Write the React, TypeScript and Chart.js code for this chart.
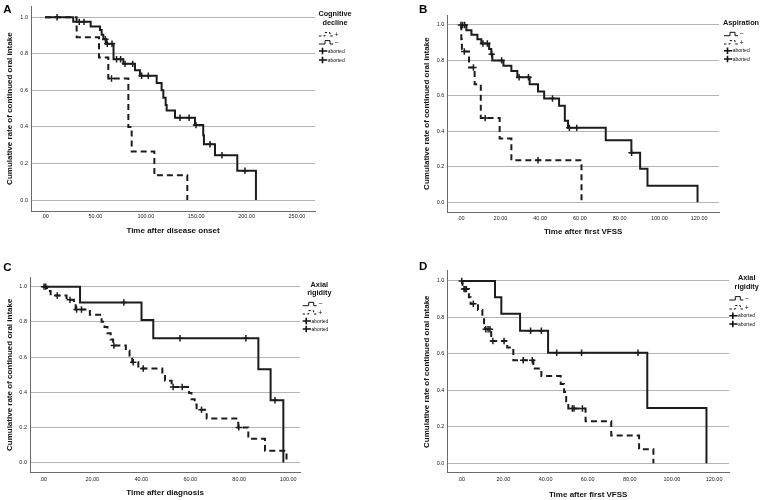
import React, { useEffect, useRef } from 'react';
import { Chart, registerables } from 'chart.js';

Chart.register(...registerables);

const FONT = "'Liberation Sans', Arial, Helvetica, sans-serif";
const INK = '#1c1c1c';

// ---------- Shared ----------
const yTicks = [0, 0.2, 0.4, 0.6, 0.8, 1.0];
const yTitle = 'Cumulative rate of continued oral intake';
const censorLabel = 'aborted';

// ---------- Panel A: Cognitive decline ----------
const aXTicks = [0, 50, 100, 150, 200, 250];
const aSolidTimes = [0, 28, 45.3, 54.6, 56.2, 57.9, 60.5, 68, 77.7, 89.3, 94.2, 110.8, 115.7, 117.4, 119.7, 120.7, 129, 148.8, 157, 157.7, 168.7, 190.8, 209.3];
const aSolidSurv = [1.0, 0.975, 0.95, 0.93, 0.905, 0.88, 0.855, 0.77, 0.745, 0.71, 0.68, 0.64, 0.6, 0.56, 0.52, 0.49, 0.45, 0.41, 0.355, 0.305, 0.245, 0.16, 0.0];
const aSolidCensored = [12, 34, 38.7, 59.9, 61.8, 66.5, 71, 75, 79.4, 87, 95.9, 102.5, 134, 143, 149.8, 163.7, 175.6, 198.4];
const aDashTimes = [0, 31.4, 53.6, 62.8, 82.7, 86, 108.5, 141.2];
const aDashSurv = [1.0, 0.89, 0.78, 0.665, 0.4, 0.265, 0.135, 0.0];
const aDashCensored = [66];

// ---------- Panel B: Aspiration ----------
const bXTicks = [0, 20, 40, 60, 80, 100, 120];
const bSolidTimes = [0, 2.85, 5.4, 8.4, 10.4, 14.3, 15.4, 15.9, 21.5, 25.5, 28.5, 34.7, 38.9, 42, 49.5, 52.4, 54, 73, 85.9, 90.3, 94, 119.2];
const bSolidSurv = [1.0, 0.97, 0.945, 0.92, 0.895, 0.865, 0.835, 0.8, 0.77, 0.74, 0.705, 0.665, 0.625, 0.585, 0.545, 0.46, 0.42, 0.35, 0.28, 0.19, 0.094, 0.0];
const bSolidCensored = [0.1, 1.0, 2.0, 11.2, 13.4, 15.6, 20.6, 29.4, 34.1, 46.2, 54.7, 58.4, 86];
const bDashTimes = [0, 0.3, 0.6, 4.2, 7.0, 10.1, 19.6, 25.5, 60.8];
const bDashSurv = [1.0, 0.92, 0.85, 0.76, 0.665, 0.475, 0.36, 0.237, 0.0];
const bDashCensored = [1.8, 6.4, 12.3, 38.9];

// ---------- Panel C: Axial rigidity (time after diagnosis) ----------
const cXTicks = [0, 20, 40, 60, 80, 100];
const cSolidTimes = [0, 15, 40.1, 44.9, 87.8, 92.8, 98];
const cSolidSurv = [1.0, 0.91, 0.81, 0.707, 0.53, 0.354, 0.0];
const cSolidCensored = [0.3, 1.0, 32.9, 55.8, 82.7, 94.6];
const cDashTimes = [0, 1.5, 3.0, 9.5, 12.5, 13.2, 19, 23.8, 25, 26.2, 27.5, 28.5, 33.7, 35.2, 36.3, 38.8, 48.6, 49.7, 52.4, 59.5, 60.5, 61.8, 62.6, 66.7, 79.6, 83.7, 90.5, 99.3];
const cDashSurv = [1.0, 0.975, 0.95, 0.925, 0.9, 0.87, 0.84, 0.8, 0.77, 0.735, 0.7, 0.665, 0.635, 0.6, 0.57, 0.535, 0.5, 0.465, 0.43, 0.395, 0.36, 0.33, 0.3, 0.25, 0.2, 0.135, 0.068, 0.0];
const cDashCensored = [5.7, 10.9, 13.6, 15.6, 28.8, 36.7, 40.8, 53, 56.7, 64.6, 79.8];

// ---------- Panel D: Axial rigidity (time after first VFSS) ----------
const dXTicks = [0, 20, 40, 60, 80, 100, 120];
const dSolidTimes = [0, 16, 19, 27.9, 41.2, 88.3, 116.4];
const dSolidSurv = [1.0, 0.91, 0.82, 0.727, 0.606, 0.303, 0.0];
const dSolidCensored = [0.2, 32.9, 38, 45.3, 57.1, 83.9];
const dDashTimes = [0, 0.6, 3.6, 4.4, 7.9, 10, 10.8, 11.3, 14.2, 21.8, 24.7, 34.2, 38, 47.2, 48.8, 49.8, 50.8, 59, 71.2, 84.4, 91.2];
const dDashSurv = [1.0, 0.955, 0.91, 0.875, 0.84, 0.8, 0.76, 0.735, 0.67, 0.635, 0.565, 0.52, 0.478, 0.435, 0.39, 0.34, 0.3, 0.23, 0.152, 0.076, 0.0];
const dDashCensored = [1.3, 1.8, 2.4, 5.7, 11.6, 12.7, 13.6, 15, 20.3, 29.4, 33.7, 52.7, 53.5, 57.5];

type Kind = 'solid' | 'dashed';

interface PanelCfg {
  letter: string;
  left: number; top: number; w: number; h: number;
  area: { l: number; t: number; r: number; b: number };
  xMin: number; xMax: number; yMin: number; yMax: number;
  padLeft: number; xTitlePB: number; xTickPad: number;
  xTitle: string; xTicks: number[];
  solid: [number[], number[], number[]];
  dashed: [number[], number[], number[]];
  legendTitle: string[]; legendCx: number; legendTitleY: number[];
  legendX: number; legendRowsY: number[]; legendOrder: Kind[];
  letterX: number; letterY: number;
}

const panels: PanelCfg[] = [
  {
    letter: 'A', left: 0, top: 0, w: 384, h: 250,
    area: { l: 31, t: 5, r: 315, b: 211 },
    xMin: -13.9, xMax: 267.9, yMin: -0.06, yMax: 1.06,
    padLeft: 5.2, xTitlePB: 14.2, xTickPad: 2.5,
    xTitle: 'Time after disease onset', xTicks: aXTicks,
    solid: [aSolidTimes, aSolidSurv, aSolidCensored],
    dashed: [aDashTimes, aDashSurv, aDashCensored],
    legendTitle: ['Cognitive', 'decline'], legendCx: 335, legendTitleY: [14, 22.7],
    legendX: 319, legendRowsY: [34.3, 42.3, 51, 60], legendOrder: ['dashed', 'solid'],
    letterX: 3.3, letterY: 12.8,
  },
  {
    letter: 'B', left: 384, top: 0, w: 383, h: 250,
    area: { l: 63.3, t: 15, r: 335, b: 212.3 },
    xMin: -6.75, xMax: 130, yMin: -0.056, yMax: 1.056,
    padLeft: 37.9, xTitlePB: 13.5, xTickPad: 3.2,
    xTitle: 'Time after first VFSS', xTicks: bXTicks,
    solid: [bSolidTimes, bSolidSurv, bSolidCensored],
    dashed: [bDashTimes, bDashSurv, bDashCensored],
    legendTitle: ['Aspiration'], legendCx: 357, legendTitleY: [22.7],
    legendX: 340, legendRowsY: [34, 42.3, 50.7, 59], legendOrder: ['solid', 'dashed'],
    letterX: 35, letterY: 12.8,
  },
  {
    letter: 'C', left: 0, top: 250, w: 384, h: 250,
    area: { l: 30, t: 27.3, r: 300, b: 222.3 },
    xMin: -5.43, xMax: 104.8, yMin: -0.055, yMax: 1.053,
    padLeft: 5.2, xTitlePB: 2.9, xTickPad: 4,
    xTitle: 'Time after diagnosis', xTicks: cXTicks,
    solid: [cSolidTimes, cSolidSurv, cSolidCensored],
    dashed: [cDashTimes, cDashSurv, cDashCensored],
    legendTitle: ['Axial', 'rigidity'], legendCx: 319.3, legendTitleY: [35, 42.7],
    legendX: 302.7, legendRowsY: [54, 62.3, 71, 79], legendOrder: ['solid', 'dashed'],
    letterX: 3.3, letterY: 20.7,
  },
  {
    letter: 'D', left: 384, top: 250, w: 383, h: 250,
    area: { l: 63.3, t: 20.7, r: 345, b: 222.7 },
    xMin: -6.65, xMax: 127.1, yMin: -0.052, yMax: 1.056,
    padLeft: 37.9, xTitlePB: 0.2, xTickPad: 3.8,
    xTitle: 'Time after first VFSS', xTicks: dXTicks,
    solid: [dSolidTimes, dSolidSurv, dSolidCensored],
    dashed: [dDashTimes, dDashSurv, dDashCensored],
    legendTitle: ['Axial', 'rigidity'], legendCx: 362.7, legendTitleY: [28.3, 36.7],
    legendX: 345.3, legendRowsY: [48.3, 57.3, 65.7, 74], legendOrder: ['solid', 'dashed'],
    letterX: 35, letterY: 20.3,
  },
];

function survivalAt(times: number[], surv: number[], t: number): number {
  let v = surv[0];
  for (let i = 0; i < times.length; i++) {
    if (times[i] <= t) v = surv[i];
  }
  return v;
}

function fmtX(v: number): string {
  return v === 0 ? '.00' : v.toFixed(2);
}

function drawLegend(ctx: CanvasRenderingContext2D, cfg: PanelCfg) {
  ctx.save();
  ctx.fillStyle = '#111';
  ctx.strokeStyle = '#111';
  ctx.textAlign = 'center';
  ctx.textBaseline = 'middle';
  ctx.font = `bold 7.3px ${FONT}`;
  cfg.legendTitle.forEach((line, i) => ctx.fillText(line, cfg.legendCx, cfg.legendTitleY[i]));

  const x = cfg.legendX;
  cfg.legendOrder.forEach((kind, i) => {
    const y = cfg.legendRowsY[i];
    ctx.lineWidth = 1;
    ctx.setLineDash(kind === 'dashed' ? [2.5, 2] : []);
    ctx.beginPath();
    ctx.moveTo(x, y + 1.7);
    ctx.lineTo(x + 6, y + 1.7);
    ctx.lineTo(x + 6, y - 1.7);
    ctx.lineTo(x + 11, y - 1.7);
    ctx.lineTo(x + 11, y + 1.7);
    ctx.lineTo(x + 14, y + 1.7);
    ctx.stroke();
    ctx.setLineDash([]);
    ctx.font = `7px ${FONT}`;
    ctx.textAlign = 'left';
    ctx.fillText(kind === 'dashed' ? '+' : '\u2212', x + 15.5, y + 0.5);
  });
  for (let k = 0; k < 2; k++) {
    const y = cfg.legendRowsY[2 + k];
    ctx.lineWidth = 1.6;
    ctx.beginPath();
    ctx.moveTo(x, y);
    ctx.lineTo(x + 8.3, y);
    ctx.moveTo(x + 3.5, y - 3.3);
    ctx.lineTo(x + 3.5, y + 3.3);
    ctx.stroke();
    ctx.font = `5px ${FONT}`;
    ctx.textAlign = 'left';
    ctx.fillText(censorLabel, x + 8.7, y + 0.4);
  }
  ctx.font = `bold 11.5px ${FONT}`;
  ctx.textAlign = 'left';
  ctx.textBaseline = 'alphabetic';
  ctx.fillStyle = '#000';
  ctx.fillText(cfg.letter, cfg.letterX, cfg.letterY);
  ctx.restore();
}

function Panel({ cfg }: { cfg: PanelCfg }) {
  const ref = useRef<HTMLCanvasElement | null>(null);

  useEffect(() => {
    const canvas = ref.current;
    if (!canvas) return;

    const lineDs = (t: number[], s: number[], dashed: boolean) => ({
      data: t.map((x, i) => ({ x, y: s[i] })),
      stepped: 'before' as const,
      borderColor: INK,
      borderWidth: 2,
      borderDash: dashed ? [6, 4] : [],
      pointRadius: 0,
      fill: false,
      showLine: true,
    });
    const censorDs = (t: number[], s: number[], c: number[]) => ({
      data: c.map((x) => ({ x, y: survivalAt(t, s, x) })),
      showLine: false,
      pointStyle: 'cross' as const,
      pointRadius: 3.2,
      pointBorderWidth: 1.5,
      borderColor: INK,
      pointBorderColor: INK,
      backgroundColor: INK,
    });

    const [st, ss, sc] = cfg.solid;
    const [dt, dsv, dc] = cfg.dashed;

    const legendPlugin = {
      id: 'kmLegend' + cfg.letter,
      afterDraw(chart: any) {
        drawLegend(chart.ctx, cfg);
      },
    };

    const chart = new Chart(canvas, {
      type: 'line',
      data: {
        datasets: [
          lineDs(dt, dsv, true),
          lineDs(st, ss, false),
          censorDs(dt, dsv, dc),
          censorDs(st, ss, sc),
        ] as any,
      },
      options: {
        responsive: false,
        animation: false,
        devicePixelRatio: 1,
        layout: {
          padding: { left: cfg.padLeft, top: cfg.area.t, right: cfg.w - cfg.area.r, bottom: 0 },
        },
        plugins: {
          legend: { display: false },
          tooltip: { enabled: false },
        },
        scales: {
          x: {
            type: 'linear',
            min: cfg.xMin,
            max: cfg.xMax,
            afterBuildTicks: (ax: any) => {
              ax.ticks = cfg.xTicks.map((v) => ({ value: v }));
            },
            afterFit: (s: any) => {
              s.height = cfg.h - cfg.area.b;
            },
            ticks: {
              callback: (v: any) => fmtX(Number(v)),
              font: { family: FONT, size: 5.5 },
              color: '#222',
              padding: cfg.xTickPad,
              maxRotation: 0,
              autoSkip: false,
            },
            grid: { drawOnChartArea: false, drawTicks: false },
            border: { display: true, color: '#6a6a6a', width: 1 },
            title: {
              display: true,
              text: cfg.xTitle,
              font: { family: FONT, size: 8, weight: 'bold' },
              color: '#111',
              padding: { top: 0, bottom: cfg.xTitlePB },
            },
          },
          y: {
            type: 'linear',
            min: cfg.yMin,
            max: cfg.yMax,
            afterBuildTicks: (ax: any) => {
              ax.ticks = yTicks.map((v) => ({ value: v }));
            },
            afterFit: (s: any) => {
              s.width = cfg.area.l - cfg.padLeft;
            },
            ticks: {
              callback: (v: any) => Number(v).toFixed(1),
              font: { family: FONT, size: 5.5 },
              color: '#222',
              padding: 3,
              autoSkip: false,
            },
            grid: { color: '#b4b4b4', lineWidth: 1, drawTicks: false },
            border: { display: true, color: '#6a6a6a', width: 1 },
            title: {
              display: true,
              text: yTitle,
              font: { family: FONT, size: 8, weight: 'bold' },
              color: '#111',
              padding: { top: 0, bottom: 0 },
            },
          },
        },
      } as any,
      plugins: [legendPlugin],
    });

    return () => {
      chart.destroy();
    };
  }, [cfg]);

  return (
    <canvas
      ref={ref}
      width={cfg.w}
      height={cfg.h}
      style={{ position: 'absolute', left: cfg.left, top: cfg.top, width: cfg.w, height: cfg.h }}
    />
  );
}

export default function App() {
  return (
    <div style={{ position: 'absolute', left: 0, top: 0, width: 767, height: 500, background: '#fff', overflow: 'hidden' }}>
      {panels.map((p) => (
        <Panel key={p.letter} cfg={p} />
      ))}
    </div>
  );
}
